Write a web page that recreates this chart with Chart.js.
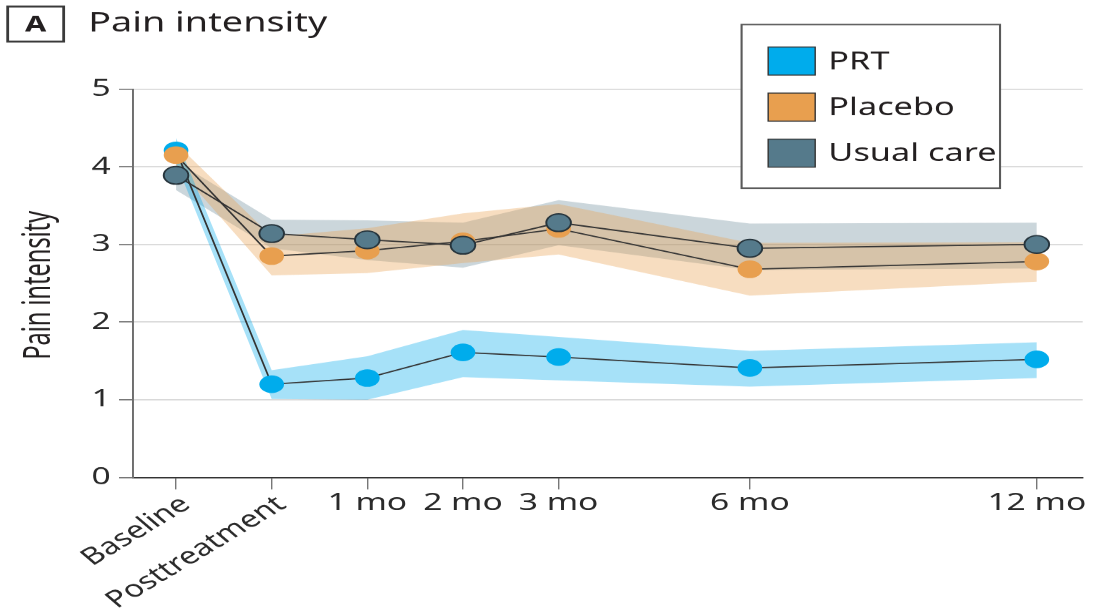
<!DOCTYPE html>
<html>
<head>
<meta charset="utf-8">
<script src="https://cdn.jsdelivr.net/npm/chart.js@4.4.1/dist/chart.umd.min.js"></script>
<style>
  html, body { margin: 0; padding: 0; background: #ffffff; overflow: hidden; }
  /* The figure is laid out on a 784px-wide canvas and widened to the page width. */
  #wrap { position: absolute; left: 0; top: 0; width: 784px; height: 608px;
          transform: scaleX(1.39923); transform-origin: 0 0; }
</style>
</head>
<body>
<div id="wrap"><canvas id="chart"></canvas></div>
<script>
// Follow-up time points and where they sit on the (non-uniform) time axis
const timeLabels = ['Baseline', 'Posttreatment', '1 mo', '2 mo', '3 mo', '6 mo', '12 mo'];
const timeValues = [-1, 0, 1, 2, 3, 5, 8];

// Pain intensity, mean and 95% CI per group
const prtMean     = [4.21, 1.20, 1.28, 1.61, 1.55, 1.41, 1.52];
const prtLow      = [4.05, 1.01, 1.00, 1.29, 1.25, 1.17, 1.28];
const prtHigh     = [4.37, 1.38, 1.56, 1.90, 1.81, 1.63, 1.74];

const placeboMean = [4.15, 2.85, 2.92, 3.04, 3.20, 2.68, 2.78];
const placeboLow  = [4.00, 2.60, 2.63, 2.76, 2.87, 2.34, 2.52];
const placeboHigh = [4.30, 3.10, 3.21, 3.40, 3.52, 3.02, 3.03];

const ucMean      = [3.89, 3.14, 3.06, 2.99, 3.28, 2.95, 3.00];
const ucLow       = [3.70, 2.95, 2.80, 2.70, 2.99, 2.67, 2.69];
const ucHigh      = [4.07, 3.32, 3.31, 3.28, 3.57, 3.27, 3.28];

const yTicks = [0, 1, 2, 3, 4, 5];
const seriesNames = ['PRT', 'Placebo', 'Usual care'];

const COL = {
  prt: '#00ACEC', prtBand: 'rgba(0,170,235,0.35)',
  placebo: '#E89F4F', placeboBand: 'rgba(232,160,80,0.36)',
  uc: '#557A8B', ucBand: 'rgba(87,122,138,0.31)',
  ink: '#231f20', line: '#333333'
};
const FONT = '"Noto Sans", "Open Sans", sans-serif';

const pts = arr => arr.map((v, i) => ({ x: timeValues[i], y: v }));

const meanLine = (data, fillCol, borderCol, borderW) => ({
  data: pts(data), borderColor: COL.line, borderWidth: 1.3, tension: 0, fill: false,
  pointRadius: 8.8, pointBackgroundColor: fillCol, pointBorderColor: borderCol,
  pointBorderWidth: borderW
});
const bandEdge = (data, fillCol) => ({
  data: pts(data), borderColor: 'transparent', borderWidth: 0, pointRadius: 0,
  tension: 0, fill: fillCol ? '-1' : false, backgroundColor: fillCol || 'transparent'
});

// Title, legend, axis title and time labels drawn on top of the chart
const decorations = {
  id: 'decorations',
  afterDraw(chart) {
    const ctx = chart.ctx;
    ctx.save();
    ctx.fillStyle = COL.ink;

    // Panel letter and heading
    ctx.strokeStyle = '#3a3a3a';
    ctx.lineWidth = 2;
    ctx.strokeRect(5.5, 6.5, 40, 35);
    ctx.font = 'bold 22px ' + FONT;
    ctx.textAlign = 'center';
    ctx.textBaseline = 'middle';
    ctx.fillText('A', 25.5, 25);
    ctx.font = '27px ' + FONT;
    ctx.textAlign = 'left';
    ctx.fillText('Pain intensity', 63, 24);

    // Legend
    const lx = 530, ly = 24.5, lw = 184.7, lh = 163.5;
    ctx.fillStyle = '#ffffff';
    ctx.fillRect(lx, ly, lw, lh);
    ctx.strokeStyle = '#5a5a5a';
    ctx.lineWidth = 1.5;
    ctx.strokeRect(lx, ly, lw, lh);
    const swatches = [COL.prt, COL.placebo, COL.uc];
    const rowsY = [61, 107, 153];
    ctx.font = '24.5px ' + FONT;
    ctx.textBaseline = 'middle';
    seriesNames.forEach((name, i) => {
      ctx.fillStyle = swatches[i];
      ctx.fillRect(549, rowsY[i] - 14, 33.6, 28);
      ctx.strokeStyle = '#333';
      ctx.lineWidth = 1;
      ctx.strokeRect(549, rowsY[i] - 14, 33.6, 28);
      ctx.fillStyle = COL.ink;
      ctx.fillText(name, 592, rowsY[i] + 1);
    });

    // Vertical axis title (slightly condensed along its length)
    ctx.save();
    ctx.translate(28, 285);
    ctx.rotate(-Math.PI / 2);
    ctx.scale(0.87, 1);
    ctx.font = '27px ' + FONT;
    ctx.textAlign = 'center';
    ctx.textBaseline = 'middle';
    ctx.fillText('Pain intensity', 0, 0);
    ctx.restore();

    // Time labels under the axis
    const xs = chart.scales.x;
    ctx.fillStyle = '#2a2a2a';
    timeLabels.forEach((lab, i) => {
      const px = xs.getPixelForValue(timeValues[i]);
      if (i < 2) {
        ctx.save();
        ctx.translate(px + 7, 501);
        ctx.rotate(-40 * Math.PI / 180);
        ctx.font = '23.5px ' + FONT;
        ctx.textAlign = 'right';
        ctx.textBaseline = 'middle';
        ctx.fillText(lab, 0, 0);
        ctx.restore();
      } else {
        ctx.font = '24px ' + FONT;
        ctx.textAlign = 'center';
        ctx.textBaseline = 'middle';
        ctx.fillText(lab, px, 503);
      }
    });
    ctx.restore();
  }
};

new Chart(document.getElementById('chart'), {
  type: 'line',
  data: {
    datasets: [
      meanLine(ucMean, COL.uc, '#26343c', 1.4),
      meanLine(placeboMean, COL.placebo, COL.placebo, 0),
      meanLine(prtMean, COL.prt, COL.prt, 0),
      bandEdge(prtLow), bandEdge(prtHigh, COL.prtBand),
      bandEdge(placeboLow), bandEdge(placeboHigh, COL.placeboBand),
      bandEdge(ucLow), bandEdge(ucHigh, COL.ucBand)
    ]
  },
  options: {
    responsive: true,
    maintainAspectRatio: false,
    animation: false,
    events: [],
    devicePixelRatio: 1.39923,
    layout: { padding: { top: 89, right: 9.3, left: 0, bottom: 0 } },
    plugins: { legend: { display: false }, tooltip: { enabled: false }, title: { display: false } },
    scales: {
      x: {
        type: 'linear', min: -1.45, max: 8.48,
        afterBuildTicks: sc => { sc.ticks = timeValues.map(v => ({ value: v })); },
        afterFit: sc => { sc.height = 131; },
        ticks: { display: false },
        grid: { drawOnChartArea: false, drawTicks: true, tickLength: 12, tickColor: '#777', tickWidth: 1 },
        border: { color: '#333', width: 1.3 }
      },
      y: {
        min: 0, max: 5,
        afterBuildTicks: sc => { sc.ticks = yTicks.map(v => ({ value: v })); },
        afterFit: sc => { sc.width = 95.06; },
        ticks: { padding: 6, color: '#2a2a2a', font: { family: FONT, size: 24 } },
        grid: { color: '#d9d9d9', lineWidth: 1.2, tickColor: '#777', tickLength: 10 },
        border: { color: '#6e6e6e', width: 1.4 }
      }
    }
  },
  plugins: [decorations]
});
</script>
</body>
</html>
